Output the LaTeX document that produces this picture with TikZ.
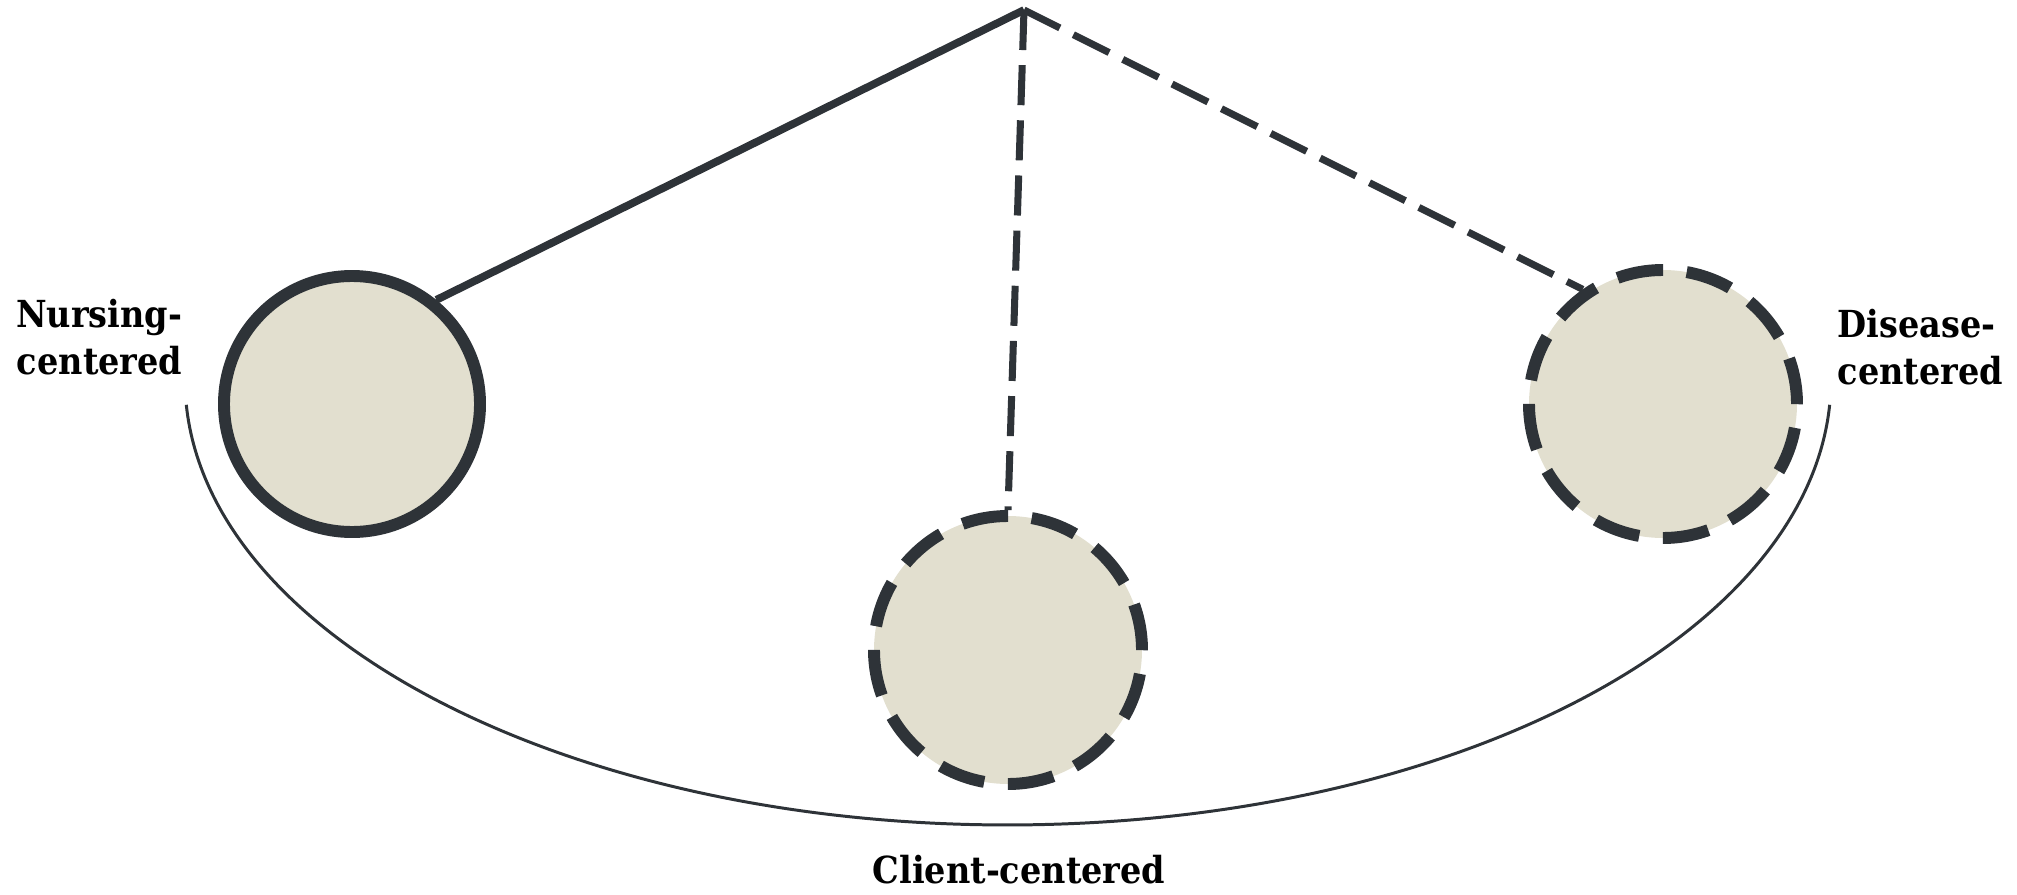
\documentclass[tikz,border=0pt]{standalone}
\usepackage{fontspec}
\setmainfont{DejaVu Serif Condensed}
\usetikzlibrary{positioning,calc}
\definecolor{ink}{HTML}{2E3338}
\definecolor{sand}{HTML}{E2DFCF}

\begin{document}
\begin{tikzpicture}[
	approach/.style={circle, draw=ink, fill=sand, line width=3.4pt, inner sep=0pt},
	solidring/.style={approach, minimum size=2.56cm},
	dashring/.style={approach, minimum size=2.68cm, dash pattern=on 13.2pt off 6.76pt},
	tie/.style={draw=ink, line width=2.2pt},
	loosetie/.style={draw=ink, line width=2pt, dash pattern=on 11.4pt off 4.3pt},
	lbl/.style={inner sep=0pt, text=black, font=\fontsize{10.6}{13.4}\selectfont\bfseries}
]
		\useasboundingbox (0,0) rectangle (20.17,8.94);
		% the swing of the pendulum
		\coordinate (rimL) at (1.863,4.892);
		\draw[ink, line width=0.85pt] (rimL) arc[start angle=183.2, end angle=356.8, x radius=8.23cm, y radius=4.45cm];
		\coordinate (pivot) at (10.24,8.84);
		\node[solidring] (nursing) at (3.52,4.90) {};
		\node[dashring] (client) at (10.08,2.44) {};
		\node[dashring] (disease) at (16.63,4.90) {};
		\draw[tie] (pivot) -- (nursing.51);
		\draw[loosetie] (pivot) -- (client.north);
		\draw[loosetie] (pivot) -- (disease.125);
		\node[lbl, align=right, anchor=east] (nursinglbl) at (1.83,5.565) {Nursing-\\centered};
		\node[lbl, align=left, anchor=west] (diseaselbl) at (18.37,5.47) {Disease-\\centered};
		\node[lbl, anchor=base] (clientlbl) at (10.19,0.11) {Client-centered};
	\end{tikzpicture}
\end{document}
